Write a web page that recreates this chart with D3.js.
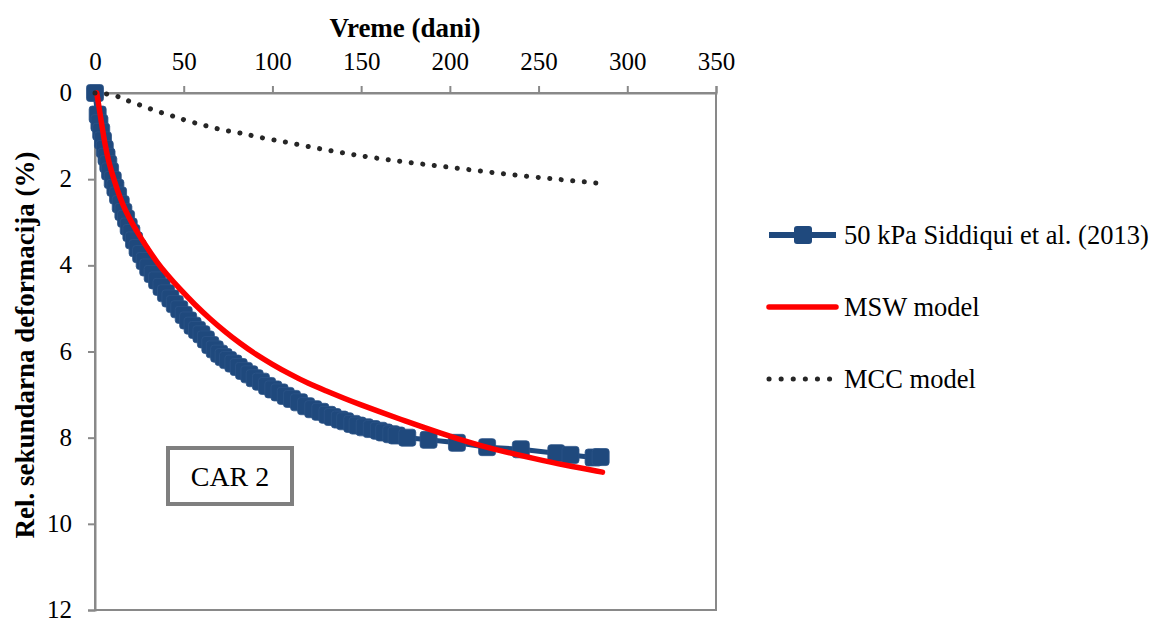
<!DOCTYPE html>
<html><head><meta charset="utf-8">
<script src="https://cdn.jsdelivr.net/npm/d3@7"></script>
<style>
html,body{margin:0;padding:0;background:#fff;}
svg{display:block;font-family:"Liberation Serif","Times New Roman",serif;}
</style></head>
<body>
<svg id="chart" width="1155" height="619"></svg>
<script>
// ---- data ----
const xTicks = [0, 50, 100, 150, 200, 250, 300, 350];
const yTicks = [0, 2, 4, 6, 8, 10, 12];
const xTitle = "Vreme (dani)";
const yTitle = "Rel. sekundarna deformacija (%)";
const seriesNames = ["50 kPa Siddiqui et al. (2013)", "MSW model", "MCC model"];
const boxLabel = "CAR 2";

// measured data (days, %)
const measT = [0, 1.5, 2.5, 3.5, 4.5, 5.5, 6.5, 7.5, 8.5, 10, 11.5, 13, 14.5, 16, 17.5, 19, 20.5, 22, 24, 26, 28, 30, 32.5, 35, 37.5, 40, 42.5, 45, 47.5, 50, 52.5, 55, 57.5, 60, 62.5, 65, 67.5, 70, 72.5, 75, 78, 81, 84, 87, 90, 93.5, 97, 100.5, 104, 107.5, 111, 115, 119, 123, 127, 131, 134, 138, 141, 145, 148, 152, 156, 160, 163, 167, 170, 176, 188, 204, 221, 240, 260, 268, 281, 285];
const measV = [0, 0.5, 0.7, 0.9, 1.1, 1.3, 1.48, 1.65, 1.82, 2.02, 2.2, 2.38, 2.58, 2.76, 2.92, 3.1, 3.25, 3.42, 3.6, 3.74, 3.9, 4.05, 4.2, 4.35, 4.5, 4.65, 4.77, 4.9, 5.02, 5.15, 5.28, 5.4, 5.5, 5.6, 5.72, 5.85, 5.95, 6.05, 6.13, 6.2, 6.28, 6.36, 6.45, 6.53, 6.62, 6.7, 6.8, 6.88, 6.95, 7.03, 7.1, 7.18, 7.27, 7.34, 7.4, 7.47, 7.52, 7.58, 7.62, 7.68, 7.72, 7.76, 7.8, 7.84, 7.88, 7.92, 7.95, 8.0, 8.05, 8.12, 8.22, 8.27, 8.36, 8.4, 8.46, 8.45];

// MSW model
const mswT = [1, 2.8, 5.6, 8, 11, 14, 17, 21, 25, 30, 35, 40, 48, 56, 65, 73, 82, 90, 100, 110, 120, 130, 140, 150, 160, 172, 185, 195, 204, 217, 230, 247, 265, 286];
const mswV = [0, 0.47, 1.2, 1.65, 2.05, 2.42, 2.72, 3.03, 3.31, 3.63, 3.93, 4.19, 4.56, 4.9, 5.25, 5.53, 5.82, 6.05, 6.3, 6.53, 6.74, 6.91, 7.08, 7.24, 7.39, 7.57, 7.76, 7.9, 8.02, 8.18, 8.32, 8.48, 8.64, 8.8];

// MCC model
const mccT = [0, 8, 14, 20, 27, 33, 40, 46, 52, 59, 65, 72, 78, 85, 91, 100, 115, 130, 145, 160, 176, 195, 215, 235, 255, 270, 283];
const mccV = [0, 0.02, 0.09, 0.21, 0.3, 0.4, 0.49, 0.56, 0.65, 0.72, 0.79, 0.86, 0.9, 0.95, 1.02, 1.08, 1.2, 1.32, 1.43, 1.52, 1.61, 1.7, 1.8, 1.9, 1.98, 2.04, 2.09];

// ---- drawing ----
const svg = d3.select("#chart");
const x = d3.scaleLinear().domain([0, 350]).range([95, 716]);
const y = d3.scaleLinear().domain([0, 12]).range([93, 610]);
const axisColor = "#898989";
const blue = "#1f497d";
const serif = '"Liberation Serif","Times New Roman",serif';

// frame
svg.append("rect").attr("x", x(0)).attr("y", y(0))
  .attr("width", x(350) - x(0)).attr("height", y(12) - y(0))
  .attr("fill", "none").attr("stroke", axisColor).attr("stroke-width", 2);

const xAxis = svg.append("g").attr("transform", `translate(0,${y(0)})`)
  .call(d3.axisTop(x).tickValues(xTicks).tickSize(7).tickPadding(16).tickFormat(d3.format("d")));
const yAxis = svg.append("g").attr("transform", `translate(${x(0)},0)`)
  .call(d3.axisLeft(y).tickValues(yTicks).tickSize(7).tickPadding(16).tickFormat(d3.format("d")));
[xAxis, yAxis].forEach(g => {
  g.selectAll("path,line").attr("stroke", axisColor).attr("stroke-width", 2);
  g.selectAll("text").attr("fill", "#000").style("font-size", "25px").style("font-family", serif);
});
yAxis.selectAll("text").attr("dy", "0.3em");

// titles
svg.append("text").attr("x", 405).attr("y", 37)
  .attr("text-anchor", "middle").style("font-size", "27px").style("font-weight", "bold")
  .text(xTitle);
svg.append("text").attr("transform", `translate(34,345) rotate(-90)`)
  .attr("text-anchor", "middle").style("font-size", "27px").style("font-weight", "bold")
  .text(yTitle);

const meas = measT.map((t, i) => [t, measV[i]]);
const msw = mswT.map((t, i) => [t, mswV[i]]);
const mcc = mccT.map((t, i) => [t, mccV[i]]);

// measured series
svg.append("path").datum(meas)
  .attr("d", d3.line().x(d => x(d[0])).y(d => y(d[1])))
  .attr("fill", "none").attr("stroke", blue).attr("stroke-width", 5);
const ms = 17;
svg.append("g").selectAll("rect").data(meas).join("rect")
  .attr("x", d => x(d[0]) - ms / 2).attr("y", d => y(d[1]) - ms / 2)
  .attr("width", ms).attr("height", ms).attr("rx", 3)
  .attr("fill", blue).attr("stroke", "#2c5488").attr("stroke-width", 0.8);

const smooth = d3.line().x(d => x(d[0])).y(d => y(d[1])).curve(d3.curveBasis);
// MSW
svg.append("path").datum(msw).attr("d", smooth).attr("fill", "none")
  .attr("stroke", "#ff0000").attr("stroke-width", 5.5).attr("stroke-linecap", "round");

// MCC
svg.append("path").datum(mcc).attr("d", smooth)
  .attr("fill", "none").attr("stroke", "#262626").attr("stroke-width", 5)
  .attr("stroke-linecap", "round").attr("stroke-dasharray", "0.1 11.5");

// CAR 2 box
svg.append("rect").attr("x", 168).attr("y", 448).attr("width", 124).attr("height", 56)
  .attr("fill", "#fff").attr("stroke", "#7f7f7f").attr("stroke-width", 4);
svg.append("text").attr("x", 230).attr("y", 486).attr("text-anchor", "middle")
  .style("font-size", "28px").text(boxLabel);

// legend
const lg = svg.append("g");
const legY = [235, 307, 379];
lg.append("line").attr("x1", 769).attr("x2", 836).attr("y1", legY[0]).attr("y2", legY[0])
  .attr("stroke", blue).attr("stroke-width", 6);
lg.append("rect").attr("x", 803 - 9).attr("y", legY[0] - 9).attr("width", 18).attr("height", 18)
  .attr("rx", 3).attr("fill", blue);
lg.append("line").attr("x1", 769).attr("x2", 836).attr("y1", legY[1]).attr("y2", legY[1])
  .attr("stroke", "#ff0000").attr("stroke-width", 5.5).attr("stroke-linecap", "round");
lg.append("line").attr("x1", 769).attr("x2", 830).attr("y1", legY[2]).attr("y2", legY[2])
  .attr("stroke", "#262626").attr("stroke-width", 5).attr("stroke-linecap", "round")
  .attr("stroke-dasharray", "0.1 12");
lg.selectAll("text").data(seriesNames).join("text")
  .attr("x", 844).attr("y", (d, i) => legY[i] + 9)
  .style("font-size", "26.5px").text(d => d);
</script>
</body></html>
